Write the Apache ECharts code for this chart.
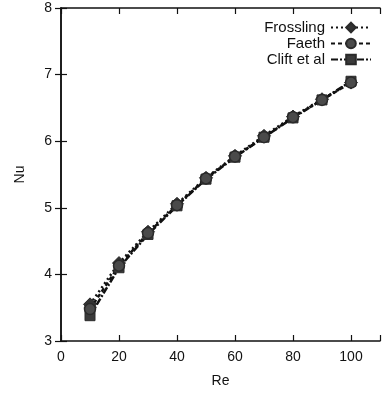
<!DOCTYPE html>
<html>
<head>
<meta charset="utf-8">
<style>
  html, body { margin: 0; padding: 0; background: #fff; }
  #chart { width: 383px; height: 396px; }
</style>
<script src="https://cdn.jsdelivr.net/npm/echarts@6/dist/echarts.min.js"></script>
</head>
<body>
<div id="chart"></div>
<script>
// Re values and Nu for each correlation
const re = [10, 20, 30, 40, 50, 60, 70, 80, 90, 100]
const frossling = [3.55, 4.17, 4.64, 5.06, 5.45, 5.78, 6.08, 6.37, 6.63, 6.88]
const faeth = [3.48, 4.13, 4.62, 5.04, 5.44, 5.77, 6.06, 6.36, 6.62, 6.88]
const clift = [3.38, 4.10, 4.60, 5.03, 5.43, 5.76, 6.06, 6.35, 6.62, 6.90]

const font = 'Liberation Sans, Arial, sans-serif'
const axisLine = { lineStyle: { color: '#111', width: 1.5 } }
const tick = { inside: true, length: 6, lineStyle: { color: '#111', width: 1.2 } }

const pairs = ys => re.map((x, i) => [x, ys[i]])

const chart = echarts.init(document.getElementById('chart'), null, { renderer: 'canvas' })

function line(name, data, symbol, size, type, fill, border) {
  return {
    name, type: 'line', data: pairs(data),
    symbol, symbolSize: size,
    lineStyle: { color: '#111', width: 2.5, type },
    itemStyle: { color: fill, borderColor: '#2a2a2a', borderWidth: border },
    animation: false,
  }
}

chart.setOption({
  backgroundColor: '#fff',
  textStyle: { fontFamily: font },
  grid: { left: 61, top: 8, width: 329, height: 333 },
  legend: {
    orient: 'vertical',
    right: 6, top: 15,
    align: 'right',
    itemWidth: 40, itemHeight: 12, itemGap: 1,
    textStyle: { fontFamily: font, fontSize: 15, color: '#111', padding: [0, 1, 0, 0] },
    data: ['Frossling', 'Faeth', 'Clift et al'],
  },
  xAxis: [
    {
      type: 'value', min: 0, max: 110, interval: 20,
      name: 'Re', nameLocation: 'middle', nameGap: 33,
      nameTextStyle: { fontFamily: font, fontSize: 14, color: '#111' },
      axisLine, axisTick: tick, splitLine: { show: false },
      axisLabel: {
        color: '#111', fontSize: 14, fontFamily: font, margin: 9,
        formatter: v => (v > 100 ? '' : v),
      },
    },
    {
      type: 'value', position: 'top', min: 0, max: 110, interval: 20,
      axisLine, axisTick: tick, axisLabel: { show: false }, splitLine: { show: false },
    },
  ],
  yAxis: [
    {
      type: 'value', min: 3, max: 8, interval: 1,
      name: 'Nu', nameLocation: 'middle', nameGap: 34,
      nameTextStyle: { fontFamily: font, fontSize: 14, color: '#111' },
      axisLine, axisTick: tick, splitLine: { show: false },
      axisLabel: { color: '#111', fontSize: 14, fontFamily: font, margin: 9 },
    },
    {
      type: 'value', position: 'right', min: 3, max: 8, interval: 1,
      axisLine, axisTick: tick, axisLabel: { show: false }, splitLine: { show: false },
    },
  ],
  series: [
    line('Clift et al', clift, 'rect', 10, [7, 2, 2, 2], '#3a3a3a', 1),
    line('Frossling', frossling, 'diamond', 13, [2, 3], '#333', 1),
    line('Faeth', faeth, 'circle', 11, [4, 3], '#4a4a4a', 1.5),
  ],
})
</script>
</body>
</html>
